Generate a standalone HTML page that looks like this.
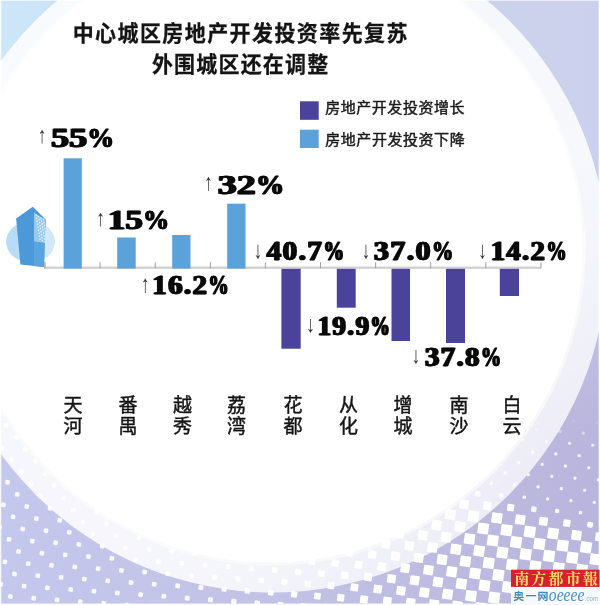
<!DOCTYPE html>
<html lang="zh-CN">
<head>
<meta charset="utf-8">
<title>中心城区房地产开发投资率先复苏 外围城区还在调整</title>
<style>
html,body{margin:0;padding:0;background:#fff;}
body{width:600px;height:605px;overflow:hidden;}
svg{display:block;}
.title{font-family:'Liberation Sans','Noto Sans CJK SC',sans-serif;font-weight:700;font-size:21px;fill:#141414;stroke:#141414;stroke-width:0.25px}
.leg{font-family:'Liberation Sans','Noto Sans CJK SC',sans-serif;font-weight:400;font-size:15px;fill:#1c1c1c;stroke:#1c1c1c;stroke-width:0.45px}
.city{font-family:'Liberation Sans','Noto Sans CJK SC',sans-serif;font-weight:400;font-size:19px;fill:#151515;stroke:#151515;stroke-width:0.45px;text-anchor:middle}
.num{font-family:'Liberation Serif',serif;font-weight:700;font-size:29px;fill:#0a0a0a;stroke:#0a0a0a;stroke-width:0.4px}
.n3{text-shadow:0.7px 0 0 #0a0a0a,-0.7px 0 0 #0a0a0a}
.n5{text-shadow:0.75px 0 0 #0a0a0a,-0.75px 0 0 #0a0a0a;letter-spacing:1.3px}
.arr{font-family:'Liberation Serif','DejaVu Serif',serif;font-weight:400;font-size:24px;fill:#333}
.lg1{font-family:'Liberation Serif','Noto Serif CJK SC',serif;font-weight:700;font-size:15px;fill:#f7e264}
.lg2{font-family:'Liberation Sans','Noto Sans CJK SC',sans-serif;font-weight:700;font-size:11px;fill:#3b8fb6}
.lg3{font-family:'Liberation Serif',serif;font-style:italic;font-weight:400;font-size:17px;fill:#4a8fc8}
.lg4{font-family:'Liberation Sans',sans-serif;font-style:italic;font-size:6px;fill:#86b4d8}
</style>
</head>
<body>
<svg width="600" height="605" viewBox="0 0 600 605">
<defs>
<linearGradient id="bgt" gradientUnits="userSpaceOnUse" x1="0" y1="0" x2="600" y2="0">
<stop offset="0" stop-color="#cde6f9"/>
<stop offset="0.25" stop-color="#cce0f6"/>
<stop offset="0.85" stop-color="#cbd2ec"/>
<stop offset="1" stop-color="#cbd1ec"/>
</linearGradient>
<linearGradient id="bgb" gradientUnits="userSpaceOnUse" x1="0" y1="0" x2="600" y2="0">
<stop offset="0" stop-color="#c4c8ec"/>
<stop offset="0.5" stop-color="#c1c1e5"/>
<stop offset="1" stop-color="#b9b5dc"/>
</linearGradient>
<linearGradient id="ring" gradientUnits="userSpaceOnUse" x1="150" y1="150" x2="560" y2="560">
<stop offset="0" stop-color="#fff" stop-opacity="0.85"/>
<stop offset="0.55" stop-color="#fff" stop-opacity="0.84"/>
<stop offset="1" stop-color="#fff" stop-opacity="0.7"/>
</linearGradient>
<linearGradient id="vm" gradientUnits="userSpaceOnUse" x1="0" y1="150" x2="0" y2="430">
<stop offset="0" stop-color="#000"/>
<stop offset="1" stop-color="#fff"/>
</linearGradient>
<mask id="mb" maskUnits="userSpaceOnUse" x="0" y="0" width="600" height="605"><rect width="600" height="605" fill="url(#vm)"/></mask>
<filter id="soft" x="-5%" y="-5%" width="110%" height="110%"><feGaussianBlur stdDeviation="0.7"/></filter>
</defs>
<rect width="600" height="605" fill="url(#bgt)"/>
<rect width="600" height="605" fill="url(#bgb)" mask="url(#mb)"/>
<g fill="#fff" filter="url(#soft)">
<rect x="3.9" y="422.9" width="4.6" height="4.6" rx="1.2" fill-opacity="0.88" transform="rotate(8 6.2 425.2)"/>
<rect x="-9.8" y="433.3" width="4.6" height="4.6" rx="1.2" fill-opacity="0.88" transform="rotate(8 -7.5 435.6)"/>
<rect x="13.5" y="435.0" width="4.6" height="4.6" rx="1.2" fill-opacity="0.88" transform="rotate(8 15.8 437.3)"/>
<rect x="-0.2" y="445.4" width="4.6" height="4.6" rx="1.2" fill-opacity="0.88" transform="rotate(8 2.1 447.7)"/>
<rect x="23.1" y="447.1" width="4.6" height="4.6" rx="1.2" fill-opacity="0.88" transform="rotate(8 25.4 449.4)"/>
<rect x="9.4" y="457.5" width="4.6" height="4.6" rx="1.2" fill-opacity="0.88" transform="rotate(8 11.7 459.8)"/>
<rect x="-4.3" y="467.9" width="4.6" height="4.6" rx="1.2" fill-opacity="0.88" transform="rotate(8 -2.0 470.2)"/>
<rect x="32.7" y="459.2" width="4.6" height="4.6" rx="1.2" fill-opacity="0.88" transform="rotate(8 35.0 461.5)"/>
<rect x="19.0" y="469.6" width="4.6" height="4.6" rx="1.2" fill-opacity="0.88" transform="rotate(8 21.3 471.9)"/>
<rect x="5.3" y="480.0" width="4.6" height="4.6" rx="1.2" fill-opacity="0.88" transform="rotate(8 7.6 482.3)"/>
<rect x="-8.4" y="490.4" width="4.6" height="4.6" rx="1.2" fill-opacity="0.88" transform="rotate(8 -6.1 492.7)"/>
<rect x="42.3" y="471.3" width="4.6" height="4.6" rx="1.2" fill-opacity="0.88" transform="rotate(8 44.6 473.6)"/>
<rect x="28.6" y="481.7" width="4.6" height="4.6" rx="1.2" fill-opacity="0.88" transform="rotate(8 30.9 484.0)"/>
<rect x="14.9" y="492.1" width="4.6" height="4.6" rx="1.2" fill-opacity="0.88" transform="rotate(8 17.2 494.4)"/>
<rect x="1.2" y="502.5" width="4.6" height="4.6" rx="1.2" fill-opacity="0.88" transform="rotate(8 3.5 504.8)"/>
<rect x="51.9" y="483.4" width="4.6" height="4.6" rx="1.2" fill-opacity="0.88" transform="rotate(8 54.2 485.7)"/>
<rect x="38.2" y="493.8" width="4.6" height="4.6" rx="1.2" fill-opacity="0.88" transform="rotate(8 40.5 496.1)"/>
<rect x="24.5" y="504.2" width="4.6" height="4.6" rx="1.2" fill-opacity="0.88" transform="rotate(8 26.8 506.5)"/>
<rect x="10.8" y="514.6" width="4.6" height="4.6" rx="1.2" fill-opacity="0.88" transform="rotate(8 13.1 516.9)"/>
<rect x="-2.9" y="525.0" width="4.6" height="4.6" rx="1.2" fill-opacity="0.88" transform="rotate(8 -0.6 527.3)"/>
<rect x="75.2" y="485.1" width="4.6" height="4.6" rx="1.2" fill-opacity="0.88" transform="rotate(8 77.5 487.4)"/>
<rect x="61.5" y="495.5" width="4.6" height="4.6" rx="1.2" fill-opacity="0.88" transform="rotate(8 63.8 497.8)"/>
<rect x="47.8" y="505.9" width="4.6" height="4.6" rx="1.2" fill-opacity="0.88" transform="rotate(8 50.1 508.2)"/>
<rect x="34.1" y="516.3" width="4.6" height="4.6" rx="1.2" fill-opacity="0.88" transform="rotate(8 36.4 518.6)"/>
<rect x="20.4" y="526.7" width="4.6" height="4.6" rx="1.2" fill-opacity="0.88" transform="rotate(8 22.7 529.0)"/>
<rect x="6.7" y="537.1" width="4.6" height="4.6" rx="1.2" fill-opacity="0.88" transform="rotate(8 9.0 539.4)"/>
<rect x="-7.0" y="547.5" width="4.6" height="4.6" rx="1.2" fill-opacity="0.88" transform="rotate(8 -4.7 549.8)"/>
<rect x="84.8" y="497.2" width="4.6" height="4.6" rx="1.2" fill-opacity="0.88" transform="rotate(8 87.1 499.5)"/>
<rect x="71.1" y="507.6" width="4.6" height="4.6" rx="1.2" fill-opacity="0.88" transform="rotate(8 73.4 509.9)"/>
<rect x="57.4" y="518.0" width="4.6" height="4.6" rx="1.2" fill-opacity="0.88" transform="rotate(8 59.7 520.3)"/>
<rect x="43.7" y="528.4" width="4.6" height="4.6" rx="1.2" fill-opacity="0.88" transform="rotate(8 46.0 530.7)"/>
<rect x="30.0" y="538.8" width="4.6" height="4.6" rx="1.2" fill-opacity="0.88" transform="rotate(8 32.3 541.1)"/>
<rect x="16.3" y="549.2" width="4.6" height="4.6" rx="1.2" fill-opacity="0.88" transform="rotate(8 18.6 551.5)"/>
<rect x="2.6" y="559.6" width="4.6" height="4.6" rx="1.2" fill-opacity="0.88" transform="rotate(8 4.9 561.9)"/>
<rect x="-11.1" y="570.0" width="4.6" height="4.6" rx="1.2" fill-opacity="0.88" transform="rotate(8 -8.8 572.3)"/>
<rect x="94.4" y="509.3" width="4.6" height="4.6" rx="1.2" fill-opacity="0.88" transform="rotate(8 96.7 511.6)"/>
<rect x="80.7" y="519.7" width="4.6" height="4.6" rx="1.2" fill-opacity="0.88" transform="rotate(8 83.0 522.0)"/>
<rect x="67.0" y="530.1" width="4.6" height="4.6" rx="1.2" fill-opacity="0.88" transform="rotate(8 69.3 532.4)"/>
<rect x="53.3" y="540.5" width="4.6" height="4.6" rx="1.2" fill-opacity="0.88" transform="rotate(8 55.6 542.8)"/>
<rect x="39.6" y="550.9" width="4.6" height="4.6" rx="1.2" fill-opacity="0.88" transform="rotate(8 41.9 553.2)"/>
<rect x="25.9" y="561.3" width="4.6" height="4.6" rx="1.2" fill-opacity="0.88" transform="rotate(8 28.2 563.6)"/>
<rect x="12.2" y="571.7" width="4.6" height="4.6" rx="1.2" fill-opacity="0.88" transform="rotate(8 14.5 574.0)"/>
<rect x="-1.5" y="582.1" width="4.6" height="4.6" rx="1.2" fill-opacity="0.88" transform="rotate(8 0.8 584.4)"/>
<rect x="104.0" y="521.4" width="4.6" height="4.6" rx="1.2" fill-opacity="0.88" transform="rotate(8 106.3 523.7)"/>
<rect x="90.3" y="531.8" width="4.6" height="4.6" rx="1.2" fill-opacity="0.88" transform="rotate(8 92.6 534.1)"/>
<rect x="76.6" y="542.2" width="4.6" height="4.6" rx="1.2" fill-opacity="0.88" transform="rotate(8 78.9 544.5)"/>
<rect x="62.9" y="552.6" width="4.6" height="4.6" rx="1.2" fill-opacity="0.88" transform="rotate(8 65.2 554.9)"/>
<rect x="49.2" y="563.0" width="4.6" height="4.6" rx="1.2" fill-opacity="0.88" transform="rotate(8 51.5 565.3)"/>
<rect x="35.5" y="573.4" width="4.6" height="4.6" rx="1.2" fill-opacity="0.88" transform="rotate(8 37.8 575.7)"/>
<rect x="21.8" y="583.8" width="4.6" height="4.6" rx="1.2" fill-opacity="0.88" transform="rotate(8 24.1 586.1)"/>
<rect x="8.1" y="594.2" width="4.6" height="4.6" rx="1.2" fill-opacity="0.88" transform="rotate(8 10.4 596.5)"/>
<rect x="-5.6" y="604.6" width="4.6" height="4.6" rx="1.2" fill-opacity="0.88" transform="rotate(8 -3.3 606.9)"/>
<rect x="127.3" y="523.1" width="4.7" height="4.7" rx="1.2" fill-opacity="0.88" transform="rotate(8 129.6 525.4)"/>
<rect x="113.6" y="533.5" width="4.7" height="4.7" rx="1.2" fill-opacity="0.88" transform="rotate(8 115.9 535.8)"/>
<rect x="99.9" y="543.9" width="4.6" height="4.6" rx="1.2" fill-opacity="0.88" transform="rotate(8 102.2 546.2)"/>
<rect x="86.2" y="554.3" width="4.6" height="4.6" rx="1.2" fill-opacity="0.88" transform="rotate(8 88.5 556.6)"/>
<rect x="72.5" y="564.7" width="4.6" height="4.6" rx="1.2" fill-opacity="0.88" transform="rotate(8 74.8 567.0)"/>
<rect x="58.8" y="575.1" width="4.6" height="4.6" rx="1.2" fill-opacity="0.88" transform="rotate(8 61.1 577.4)"/>
<rect x="45.1" y="585.5" width="4.6" height="4.6" rx="1.2" fill-opacity="0.88" transform="rotate(8 47.4 587.8)"/>
<rect x="31.4" y="595.9" width="4.6" height="4.6" rx="1.2" fill-opacity="0.88" transform="rotate(8 33.7 598.2)"/>
<rect x="17.7" y="606.3" width="4.6" height="4.6" rx="1.2" fill-opacity="0.88" transform="rotate(8 20.0 608.6)"/>
<rect x="136.9" y="535.2" width="4.7" height="4.7" rx="1.2" fill-opacity="0.88" transform="rotate(8 139.2 537.5)"/>
<rect x="123.2" y="545.6" width="4.7" height="4.7" rx="1.2" fill-opacity="0.88" transform="rotate(8 125.5 547.9)"/>
<rect x="109.5" y="556.0" width="4.7" height="4.7" rx="1.2" fill-opacity="0.88" transform="rotate(8 111.8 558.3)"/>
<rect x="95.8" y="566.4" width="4.6" height="4.6" rx="1.2" fill-opacity="0.88" transform="rotate(8 98.1 568.7)"/>
<rect x="82.1" y="576.8" width="4.6" height="4.6" rx="1.2" fill-opacity="0.88" transform="rotate(8 84.4 579.1)"/>
<rect x="68.4" y="587.2" width="4.6" height="4.6" rx="1.2" fill-opacity="0.88" transform="rotate(8 70.7 589.5)"/>
<rect x="54.7" y="597.6" width="4.6" height="4.6" rx="1.2" fill-opacity="0.88" transform="rotate(8 57.0 599.9)"/>
<rect x="41.0" y="608.0" width="4.6" height="4.6" rx="1.2" fill-opacity="0.88" transform="rotate(8 43.3 610.3)"/>
<rect x="160.1" y="536.8" width="4.8" height="4.8" rx="1.2" fill-opacity="0.88" transform="rotate(8 162.5 539.2)"/>
<rect x="146.4" y="547.2" width="4.7" height="4.7" rx="1.2" fill-opacity="0.88" transform="rotate(8 148.8 549.6)"/>
<rect x="132.8" y="557.7" width="4.7" height="4.7" rx="1.2" fill-opacity="0.88" transform="rotate(8 135.1 560.0)"/>
<rect x="119.1" y="568.1" width="4.7" height="4.7" rx="1.2" fill-opacity="0.88" transform="rotate(8 121.4 570.4)"/>
<rect x="105.4" y="578.5" width="4.6" height="4.6" rx="1.2" fill-opacity="0.88" transform="rotate(8 107.7 580.8)"/>
<rect x="91.7" y="588.9" width="4.6" height="4.6" rx="1.2" fill-opacity="0.88" transform="rotate(8 94.0 591.2)"/>
<rect x="78.0" y="599.3" width="4.6" height="4.6" rx="1.2" fill-opacity="0.88" transform="rotate(8 80.3 601.6)"/>
<rect x="64.3" y="609.7" width="4.6" height="4.6" rx="1.2" fill-opacity="0.88" transform="rotate(8 66.6 612.0)"/>
<rect x="169.7" y="548.9" width="4.8" height="4.8" rx="1.2" fill-opacity="0.88" transform="rotate(8 172.1 551.3)"/>
<rect x="156.0" y="559.3" width="4.7" height="4.7" rx="1.2" fill-opacity="0.88" transform="rotate(8 158.4 561.7)"/>
<rect x="142.3" y="569.7" width="4.7" height="4.7" rx="1.2" fill-opacity="0.88" transform="rotate(8 144.7 572.1)"/>
<rect x="128.7" y="580.2" width="4.7" height="4.7" rx="1.2" fill-opacity="0.88" transform="rotate(8 131.0 582.5)"/>
<rect x="115.0" y="590.6" width="4.7" height="4.7" rx="1.2" fill-opacity="0.88" transform="rotate(8 117.3 592.9)"/>
<rect x="101.3" y="601.0" width="4.6" height="4.6" rx="1.2" fill-opacity="0.88" transform="rotate(8 103.6 603.3)"/>
<rect x="87.6" y="611.4" width="4.6" height="4.6" rx="1.2" fill-opacity="0.88" transform="rotate(8 89.9 613.7)"/>
<rect x="192.9" y="550.5" width="4.9" height="4.9" rx="1.2" fill-opacity="0.88" transform="rotate(8 195.4 553.0)"/>
<rect x="179.3" y="561.0" width="4.8" height="4.8" rx="1.2" fill-opacity="0.88" transform="rotate(8 181.7 563.4)"/>
<rect x="165.6" y="571.4" width="4.8" height="4.8" rx="1.2" fill-opacity="0.88" transform="rotate(8 168.0 573.8)"/>
<rect x="151.9" y="581.8" width="4.7" height="4.7" rx="1.2" fill-opacity="0.88" transform="rotate(8 154.3 584.2)"/>
<rect x="138.3" y="592.3" width="4.7" height="4.7" rx="1.2" fill-opacity="0.88" transform="rotate(8 140.6 594.6)"/>
<rect x="124.6" y="602.7" width="4.7" height="4.7" rx="1.2" fill-opacity="0.88" transform="rotate(8 126.9 605.0)"/>
<rect x="216.2" y="552.2" width="5.1" height="5.1" rx="1.2" fill-opacity="0.88" transform="rotate(8 218.7 554.7)"/>
<rect x="202.5" y="562.6" width="5.0" height="5.0" rx="1.2" fill-opacity="0.88" transform="rotate(8 205.0 565.1)"/>
<rect x="188.9" y="573.1" width="4.9" height="4.9" rx="1.2" fill-opacity="0.88" transform="rotate(8 191.3 575.5)"/>
<rect x="175.2" y="583.5" width="4.8" height="4.8" rx="1.2" fill-opacity="0.88" transform="rotate(8 177.6 585.9)"/>
<rect x="161.5" y="593.9" width="4.8" height="4.8" rx="1.2" fill-opacity="0.88" transform="rotate(8 163.9 596.3)"/>
<rect x="147.8" y="604.3" width="4.7" height="4.7" rx="1.2" fill-opacity="0.88" transform="rotate(8 150.2 606.7)"/>
<rect x="239.4" y="553.8" width="5.3" height="5.3" rx="1.2" fill-opacity="0.88" transform="rotate(8 242.0 556.4)"/>
<rect x="225.7" y="564.2" width="5.1" height="5.1" rx="1.2" fill-opacity="0.88" transform="rotate(8 228.3 566.8)"/>
<rect x="212.1" y="574.7" width="5.0" height="5.0" rx="1.2" fill-opacity="0.88" transform="rotate(8 214.6 577.2)"/>
<rect x="198.4" y="585.1" width="4.9" height="4.9" rx="1.2" fill-opacity="0.88" transform="rotate(8 200.9 587.6)"/>
<rect x="184.8" y="595.6" width="4.9" height="4.9" rx="1.2" fill-opacity="0.88" transform="rotate(8 187.2 598.0)"/>
<rect x="171.1" y="606.0" width="4.8" height="4.8" rx="1.2" fill-opacity="0.88" transform="rotate(8 173.5 608.4)"/>
<rect x="262.5" y="555.3" width="5.6" height="5.6" rx="1.2" fill-opacity="0.88" transform="rotate(8 265.3 558.1)"/>
<rect x="248.9" y="565.8" width="5.4" height="5.4" rx="1.2" fill-opacity="0.88" transform="rotate(8 251.6 568.5)"/>
<rect x="235.3" y="576.3" width="5.2" height="5.2" rx="1.2" fill-opacity="0.88" transform="rotate(8 237.9 578.9)"/>
<rect x="221.6" y="586.7" width="5.1" height="5.1" rx="1.2" fill-opacity="0.88" transform="rotate(8 224.2 589.3)"/>
<rect x="208.0" y="597.2" width="5.0" height="5.0" rx="1.2" fill-opacity="0.88" transform="rotate(8 210.5 599.7)"/>
<rect x="194.3" y="607.6" width="4.9" height="4.9" rx="1.2" fill-opacity="0.88" transform="rotate(8 196.8 610.1)"/>
<rect x="285.6" y="556.8" width="6.0" height="6.0" rx="1.2" transform="rotate(8 288.6 559.8)"/>
<rect x="272.0" y="567.3" width="5.7" height="5.7" rx="1.2" transform="rotate(8 274.9 570.2)"/>
<rect x="258.4" y="577.8" width="5.5" height="5.5" rx="1.2" fill-opacity="0.88" transform="rotate(8 261.2 580.6)"/>
<rect x="244.8" y="588.3" width="5.4" height="5.4" rx="1.2" fill-opacity="0.88" transform="rotate(8 247.5 591.0)"/>
<rect x="231.2" y="598.8" width="5.2" height="5.2" rx="1.2" fill-opacity="0.88" transform="rotate(8 233.8 601.4)"/>
<rect x="217.6" y="609.3" width="5.1" height="5.1" rx="1.2" fill-opacity="0.88" transform="rotate(8 220.1 611.8)"/>
<rect x="322.2" y="547.7" width="6.8" height="6.8" rx="0.8" transform="rotate(8 325.6 551.1)"/>
<rect x="308.7" y="558.3" width="6.5" height="6.5" rx="0.8" transform="rotate(8 311.9 561.5)"/>
<rect x="295.1" y="568.8" width="6.2" height="6.2" rx="0.8" transform="rotate(8 298.2 571.9)"/>
<rect x="281.5" y="579.3" width="5.9" height="5.9" rx="1.2" transform="rotate(8 284.5 582.3)"/>
<rect x="268.0" y="589.9" width="5.7" height="5.7" rx="1.2" transform="rotate(8 270.8 592.7)"/>
<rect x="254.4" y="600.4" width="5.5" height="5.5" rx="1.2" fill-opacity="0.88" transform="rotate(8 257.1 603.1)"/>
<rect x="240.7" y="610.8" width="5.3" height="5.3" rx="1.2" fill-opacity="0.88" transform="rotate(8 243.4 613.5)"/>
<rect x="525.5" y="416.1" width="3.1" height="3.1" rx="1.2" fill-opacity="0.05" transform="rotate(8 527.0 417.6)"/>
<rect x="358.7" y="538.5" width="7.8" height="7.8" rx="0.8" transform="rotate(8 362.6 542.4)"/>
<rect x="345.2" y="549.1" width="7.4" height="7.4" rx="0.8" transform="rotate(8 348.9 552.8)"/>
<rect x="331.7" y="559.7" width="7.0" height="7.0" rx="0.8" transform="rotate(8 335.2 563.2)"/>
<rect x="318.2" y="570.3" width="6.7" height="6.7" rx="0.8" transform="rotate(8 321.5 573.6)"/>
<rect x="304.6" y="580.8" width="6.4" height="6.4" rx="0.8" transform="rotate(8 307.8 584.0)"/>
<rect x="291.1" y="591.4" width="6.1" height="6.1" rx="0.8" transform="rotate(8 294.1 594.4)"/>
<rect x="277.5" y="601.9" width="5.8" height="5.8" rx="1.2" transform="rotate(8 280.4 604.8)"/>
<rect x="548.8" y="417.8" width="3.1" height="3.1" rx="1.2" fill-opacity="0.07" transform="rotate(8 550.3 419.3)"/>
<rect x="535.1" y="428.2" width="3.1" height="3.1" rx="1.2" fill-opacity="0.35" transform="rotate(8 536.6 429.7)"/>
<rect x="521.4" y="438.6" width="3.1" height="3.1" rx="1.2" fill-opacity="0.67" transform="rotate(8 522.9 440.1)"/>
<rect x="507.6" y="448.9" width="3.1" height="3.1" rx="1.2" fill-opacity="0.85" transform="rotate(8 509.2 450.5)"/>
<rect x="493.9" y="459.3" width="3.2" height="3.2" rx="1.2" fill-opacity="0.85" transform="rotate(8 495.5 460.9)"/>
<rect x="408.7" y="518.7" width="9.3" height="9.3" rx="0.8" transform="rotate(8 413.3 523.3)"/>
<rect x="395.2" y="529.3" width="8.9" height="8.9" rx="0.8" transform="rotate(8 399.6 533.7)"/>
<rect x="381.7" y="539.9" width="8.5" height="8.5" rx="0.8" transform="rotate(8 385.9 544.1)"/>
<rect x="368.2" y="550.5" width="8.1" height="8.1" rx="0.8" transform="rotate(8 372.2 554.5)"/>
<rect x="354.7" y="561.1" width="7.7" height="7.7" rx="0.8" transform="rotate(8 358.5 564.9)"/>
<rect x="341.2" y="571.7" width="7.3" height="7.3" rx="0.8" transform="rotate(8 344.8 575.3)"/>
<rect x="327.6" y="582.2" width="6.9" height="6.9" rx="0.8" transform="rotate(8 331.1 585.7)"/>
<rect x="314.1" y="592.8" width="6.6" height="6.6" rx="0.8" transform="rotate(8 317.4 596.1)"/>
<rect x="300.6" y="603.4" width="6.3" height="6.3" rx="0.8" transform="rotate(8 303.7 606.5)"/>
<rect x="572.1" y="419.4" width="3.1" height="3.1" rx="1.2" fill-opacity="0.11" transform="rotate(8 573.6 421.0)"/>
<rect x="558.4" y="429.8" width="3.1" height="3.1" rx="1.2" fill-opacity="0.41" transform="rotate(8 559.9 431.4)"/>
<rect x="544.7" y="440.2" width="3.1" height="3.1" rx="1.2" fill-opacity="0.71" transform="rotate(8 546.2 441.8)"/>
<rect x="531.0" y="450.6" width="3.1" height="3.1" rx="1.2" fill-opacity="0.85" transform="rotate(8 532.5 452.2)"/>
<rect x="517.2" y="461.0" width="3.1" height="3.1" rx="1.2" fill-opacity="0.85" transform="rotate(8 518.8 462.6)"/>
<rect x="503.5" y="471.4" width="3.1" height="3.1" rx="1.2" fill-opacity="0.85" transform="rotate(8 505.1 473.0)"/>
<rect x="489.8" y="481.8" width="3.3" height="3.3" rx="1.2" fill-opacity="0.85" transform="rotate(8 491.4 483.4)"/>
<rect x="474.9" y="491.0" width="5.6" height="5.6" rx="1.2" fill-opacity="0.85" transform="rotate(8 477.7 493.8)"/>
<rect x="459.4" y="499.6" width="9.3" height="9.3" rx="0.8" transform="rotate(8 464.0 504.2)"/>
<rect x="445.2" y="509.5" width="10.2" height="10.2" rx="0.8" transform="rotate(8 450.3 514.6)"/>
<rect x="431.7" y="520.1" width="9.9" height="9.9" rx="0.8" transform="rotate(8 436.6 525.0)"/>
<rect x="418.1" y="530.6" width="9.5" height="9.5" rx="0.8" transform="rotate(8 422.9 535.4)"/>
<rect x="404.6" y="541.2" width="9.2" height="9.2" rx="0.8" transform="rotate(8 409.2 545.8)"/>
<rect x="391.1" y="551.8" width="8.8" height="8.8" rx="0.8" transform="rotate(8 395.5 556.2)"/>
<rect x="377.6" y="562.4" width="8.4" height="8.4" rx="0.8" transform="rotate(8 381.8 566.6)"/>
<rect x="364.1" y="573.0" width="8.0" height="8.0" rx="0.8" transform="rotate(8 368.1 577.0)"/>
<rect x="350.6" y="583.6" width="7.6" height="7.6" rx="0.8" transform="rotate(8 354.4 587.4)"/>
<rect x="337.1" y="594.2" width="7.2" height="7.2" rx="0.8" transform="rotate(8 340.7 597.8)"/>
<rect x="323.6" y="604.8" width="6.8" height="6.8" rx="0.8" transform="rotate(8 327.0 608.2)"/>
<rect x="595.4" y="421.2" width="3.1" height="3.1" rx="1.2" fill-opacity="0.15" transform="rotate(8 596.9 422.7)"/>
<rect x="581.7" y="431.6" width="3.1" height="3.1" rx="1.2" fill-opacity="0.46" transform="rotate(8 583.2 433.1)"/>
<rect x="568.0" y="441.9" width="3.1" height="3.1" rx="1.2" fill-opacity="0.75" transform="rotate(8 569.5 443.5)"/>
<rect x="554.2" y="452.4" width="3.1" height="3.1" rx="1.2" fill-opacity="0.85" transform="rotate(8 555.8 453.9)"/>
<rect x="540.6" y="462.8" width="3.1" height="3.1" rx="1.2" fill-opacity="0.85" transform="rotate(8 542.1 464.3)"/>
<rect x="526.9" y="473.2" width="3.1" height="3.1" rx="1.2" fill-opacity="0.85" transform="rotate(8 528.4 474.7)"/>
<rect x="513.1" y="483.5" width="3.1" height="3.1" rx="1.2" fill-opacity="0.85" transform="rotate(8 514.7 485.1)"/>
<rect x="498.9" y="493.4" width="4.3" height="4.3" rx="1.2" fill-opacity="0.85" transform="rotate(8 501.0 495.5)"/>
<rect x="483.1" y="501.7" width="8.3" height="8.3" rx="0.8" transform="rotate(8 487.3 505.9)"/>
<rect x="468.2" y="510.9" width="10.7" height="10.7" rx="0.8" transform="rotate(8 473.6 516.3)"/>
<rect x="454.7" y="521.5" width="10.4" height="10.4" rx="0.8" transform="rotate(8 459.9 526.7)"/>
<rect x="441.1" y="532.0" width="10.1" height="10.1" rx="0.8" transform="rotate(8 446.2 537.1)"/>
<rect x="427.6" y="542.6" width="9.8" height="9.8" rx="0.8" transform="rotate(8 432.5 547.5)"/>
<rect x="414.1" y="553.2" width="9.4" height="9.4" rx="0.8" transform="rotate(8 418.8 557.9)"/>
<rect x="400.6" y="563.8" width="9.0" height="9.0" rx="0.8" transform="rotate(8 405.1 568.3)"/>
<rect x="387.1" y="574.4" width="8.7" height="8.7" rx="0.8" transform="rotate(8 391.4 578.7)"/>
<rect x="373.6" y="585.0" width="8.3" height="8.3" rx="0.8" transform="rotate(8 377.7 589.1)"/>
<rect x="360.1" y="595.6" width="7.8" height="7.8" rx="0.8" transform="rotate(8 364.0 599.5)"/>
<rect x="346.6" y="606.2" width="7.4" height="7.4" rx="0.8" transform="rotate(8 350.3 609.9)"/>
<rect x="605.0" y="433.3" width="3.1" height="3.1" rx="1.2" fill-opacity="0.51" transform="rotate(8 606.5 434.8)"/>
<rect x="591.2" y="443.7" width="3.1" height="3.1" rx="1.2" fill-opacity="0.78" transform="rotate(8 592.8 445.2)"/>
<rect x="577.6" y="454.1" width="3.1" height="3.1" rx="1.2" fill-opacity="0.85" transform="rotate(8 579.1 455.6)"/>
<rect x="563.9" y="464.5" width="3.1" height="3.1" rx="1.2" fill-opacity="0.85" transform="rotate(8 565.4 466.0)"/>
<rect x="550.2" y="474.9" width="3.1" height="3.1" rx="1.2" fill-opacity="0.85" transform="rotate(8 551.7 476.4)"/>
<rect x="536.5" y="485.3" width="3.1" height="3.1" rx="1.2" fill-opacity="0.85" transform="rotate(8 538.0 486.8)"/>
<rect x="522.6" y="495.5" width="3.4" height="3.4" rx="1.2" fill-opacity="0.85" transform="rotate(8 524.3 497.2)"/>
<rect x="507.1" y="504.1" width="7.0" height="7.0" rx="0.8" transform="rotate(8 510.6 507.6)"/>
<rect x="491.6" y="512.7" width="10.6" height="10.6" rx="0.8" transform="rotate(8 496.9 518.0)"/>
<rect x="477.8" y="523.0" width="10.9" height="10.9" rx="0.8" transform="rotate(8 483.2 528.4)"/>
<rect x="464.2" y="533.5" width="10.7" height="10.7" rx="0.8" transform="rotate(8 469.5 538.8)"/>
<rect x="450.6" y="544.0" width="10.4" height="10.4" rx="0.8" transform="rotate(8 455.8 549.2)"/>
<rect x="437.1" y="554.6" width="10.0" height="10.0" rx="0.8" transform="rotate(8 442.1 559.6)"/>
<rect x="423.6" y="565.2" width="9.7" height="9.7" rx="0.8" transform="rotate(8 428.4 570.0)"/>
<rect x="410.0" y="575.7" width="9.3" height="9.3" rx="0.8" transform="rotate(8 414.7 580.4)"/>
<rect x="396.5" y="586.3" width="8.9" height="8.9" rx="0.8" transform="rotate(8 401.0 590.8)"/>
<rect x="383.0" y="596.9" width="8.5" height="8.5" rx="0.8" transform="rotate(8 387.3 601.2)"/>
<rect x="369.5" y="607.5" width="8.1" height="8.1" rx="0.8" transform="rotate(8 373.6 611.6)"/>
<rect x="600.9" y="455.8" width="3.1" height="3.1" rx="1.2" fill-opacity="0.85" transform="rotate(8 602.4 457.3)"/>
<rect x="587.2" y="466.2" width="3.1" height="3.1" rx="1.2" fill-opacity="0.85" transform="rotate(8 588.7 467.7)"/>
<rect x="573.5" y="476.6" width="3.1" height="3.1" rx="1.2" fill-opacity="0.85" transform="rotate(8 575.0 478.1)"/>
<rect x="559.8" y="487.0" width="3.1" height="3.1" rx="1.2" fill-opacity="0.85" transform="rotate(8 561.3 488.5)"/>
<rect x="546.1" y="497.4" width="3.1" height="3.1" rx="1.2" fill-opacity="0.85" transform="rotate(8 547.6 498.9)"/>
<rect x="531.1" y="506.5" width="5.5" height="5.5" rx="1.2" fill-opacity="0.85" transform="rotate(8 533.9 509.3)"/>
<rect x="515.3" y="514.8" width="9.8" height="9.8" rx="0.8" transform="rotate(8 520.2 519.7)"/>
<rect x="500.9" y="524.5" width="11.2" height="11.2" rx="0.8" transform="rotate(8 506.5 530.1)"/>
<rect x="487.3" y="535.0" width="11.0" height="11.0" rx="0.8" transform="rotate(8 492.8 540.5)"/>
<rect x="473.7" y="545.5" width="10.8" height="10.8" rx="0.8" transform="rotate(8 479.1 550.9)"/>
<rect x="460.1" y="556.0" width="10.6" height="10.6" rx="0.8" transform="rotate(8 465.4 561.3)"/>
<rect x="446.6" y="566.6" width="10.3" height="10.3" rx="0.8" transform="rotate(8 451.7 571.7)"/>
<rect x="433.0" y="577.1" width="9.9" height="9.9" rx="0.8" transform="rotate(8 438.0 582.1)"/>
<rect x="419.5" y="587.7" width="9.6" height="9.6" rx="0.8" transform="rotate(8 424.3 592.5)"/>
<rect x="406.0" y="598.3" width="9.2" height="9.2" rx="0.8" transform="rotate(8 410.6 602.9)"/>
<rect x="392.5" y="608.9" width="8.8" height="8.8" rx="0.8" transform="rotate(8 396.9 613.3)"/>
<rect x="596.8" y="478.3" width="3.1" height="3.1" rx="1.2" fill-opacity="0.85" transform="rotate(8 598.3 479.8)"/>
<rect x="583.1" y="488.7" width="3.1" height="3.1" rx="1.2" fill-opacity="0.85" transform="rotate(8 584.6 490.2)"/>
<rect x="569.4" y="499.1" width="3.1" height="3.1" rx="1.2" fill-opacity="0.85" transform="rotate(8 570.9 500.6)"/>
<rect x="555.0" y="508.8" width="4.3" height="4.3" rx="1.2" fill-opacity="0.85" transform="rotate(8 557.2 511.0)"/>
<rect x="539.2" y="517.1" width="8.5" height="8.5" rx="0.8" transform="rotate(8 543.5 521.4)"/>
<rect x="524.2" y="526.2" width="11.2" height="11.2" rx="0.8" transform="rotate(8 529.8 531.8)"/>
<rect x="510.5" y="536.6" width="11.2" height="11.2" rx="0.8" transform="rotate(8 516.1 542.2)"/>
<rect x="496.8" y="547.0" width="11.1" height="11.1" rx="0.8" transform="rotate(8 502.4 552.6)"/>
<rect x="483.2" y="557.5" width="11.0" height="11.0" rx="0.8" transform="rotate(8 488.7 563.0)"/>
<rect x="469.6" y="568.0" width="10.8" height="10.8" rx="0.8" transform="rotate(8 475.0 573.4)"/>
<rect x="456.1" y="578.6" width="10.5" height="10.5" rx="0.8" transform="rotate(8 461.3 583.8)"/>
<rect x="442.5" y="589.1" width="10.2" height="10.2" rx="0.8" transform="rotate(8 447.6 594.2)"/>
<rect x="429.0" y="599.7" width="9.8" height="9.8" rx="0.8" transform="rotate(8 433.9 604.6)"/>
<rect x="606.4" y="490.3" width="3.1" height="3.1" rx="1.2" fill-opacity="0.85" transform="rotate(8 607.9 491.9)"/>
<rect x="592.7" y="500.8" width="3.1" height="3.1" rx="1.2" fill-opacity="0.85" transform="rotate(8 594.2 502.3)"/>
<rect x="578.8" y="511.0" width="3.4" height="3.4" rx="1.2" fill-opacity="0.85" transform="rotate(8 580.5 512.7)"/>
<rect x="563.3" y="519.6" width="7.1" height="7.1" rx="0.8" transform="rotate(8 566.8 523.1)"/>
<rect x="547.7" y="528.1" width="10.8" height="10.8" rx="0.8" transform="rotate(8 553.1 533.5)"/>
<rect x="533.8" y="538.3" width="11.2" height="11.2" rx="0.8" transform="rotate(8 539.4 543.9)"/>
<rect x="520.1" y="548.7" width="11.2" height="11.2" rx="0.8" transform="rotate(8 525.7 554.3)"/>
<rect x="506.4" y="559.1" width="11.2" height="11.2" rx="0.8" transform="rotate(8 512.0 564.7)"/>
<rect x="492.8" y="569.6" width="11.1" height="11.1" rx="0.8" transform="rotate(8 498.3 575.1)"/>
<rect x="479.1" y="580.0" width="10.9" height="10.9" rx="0.8" transform="rotate(8 484.6 585.5)"/>
<rect x="465.6" y="590.6" width="10.7" height="10.7" rx="0.8" transform="rotate(8 470.9 595.9)"/>
<rect x="452.0" y="601.1" width="10.4" height="10.4" rx="0.8" transform="rotate(8 457.2 606.3)"/>
<rect x="602.2" y="512.8" width="3.1" height="3.1" rx="1.2" fill-opacity="0.85" transform="rotate(8 603.8 514.4)"/>
<rect x="587.3" y="522.0" width="5.6" height="5.6" rx="1.2" transform="rotate(8 590.1 524.8)"/>
<rect x="571.5" y="530.3" width="9.9" height="9.9" rx="0.8" transform="rotate(8 576.4 535.2)"/>
<rect x="557.1" y="540.0" width="11.2" height="11.2" rx="0.8" transform="rotate(8 562.7 545.6)"/>
<rect x="543.4" y="550.4" width="11.2" height="11.2" rx="0.8" transform="rotate(8 549.0 556.0)"/>
<rect x="529.7" y="560.8" width="11.2" height="11.2" rx="0.8" transform="rotate(8 535.3 566.4)"/>
<rect x="516.0" y="571.2" width="11.2" height="11.2" rx="0.8" transform="rotate(8 521.6 576.8)"/>
<rect x="502.3" y="581.6" width="11.2" height="11.2" rx="0.8" transform="rotate(8 507.9 587.2)"/>
<rect x="488.7" y="592.1" width="11.0" height="11.0" rx="0.8" transform="rotate(8 494.2 597.6)"/>
<rect x="475.1" y="602.6" width="10.9" height="10.9" rx="0.8" transform="rotate(8 480.5 608.0)"/>
<rect x="595.4" y="532.6" width="8.6" height="8.6" rx="0.8" transform="rotate(8 599.7 536.9)"/>
<rect x="580.4" y="541.7" width="11.2" height="11.2" rx="0.8" transform="rotate(8 586.0 547.3)"/>
<rect x="566.7" y="552.1" width="11.2" height="11.2" rx="0.8" transform="rotate(8 572.3 557.7)"/>
<rect x="553.0" y="562.5" width="11.2" height="11.2" rx="0.8" transform="rotate(8 558.6 568.1)"/>
<rect x="539.3" y="572.9" width="11.2" height="11.2" rx="0.8" transform="rotate(8 544.9 578.5)"/>
<rect x="525.6" y="583.3" width="11.2" height="11.2" rx="0.8" transform="rotate(8 531.2 588.9)"/>
<rect x="511.9" y="593.7" width="11.2" height="11.2" rx="0.8" transform="rotate(8 517.5 599.3)"/>
<rect x="498.2" y="604.1" width="11.1" height="11.1" rx="0.8" transform="rotate(8 503.8 609.7)"/>
<rect x="603.9" y="543.6" width="10.8" height="10.8" rx="0.8" transform="rotate(8 609.3 549.0)"/>
<rect x="590.0" y="553.8" width="11.2" height="11.2" rx="0.8" transform="rotate(8 595.6 559.4)"/>
<rect x="576.3" y="564.2" width="11.2" height="11.2" rx="0.8" transform="rotate(8 581.9 569.8)"/>
<rect x="562.6" y="574.6" width="11.2" height="11.2" rx="0.8" transform="rotate(8 568.2 580.2)"/>
<rect x="548.9" y="585.0" width="11.2" height="11.2" rx="0.8" transform="rotate(8 554.5 590.6)"/>
<rect x="535.2" y="595.4" width="11.2" height="11.2" rx="0.8" transform="rotate(8 540.8 601.0)"/>
<rect x="521.5" y="605.8" width="11.2" height="11.2" rx="0.8" transform="rotate(8 527.1 611.4)"/>
<rect x="599.6" y="565.9" width="11.2" height="11.2" rx="0.8" transform="rotate(8 605.2 571.5)"/>
<rect x="585.9" y="576.3" width="11.2" height="11.2" rx="0.8" transform="rotate(8 591.5 581.9)"/>
<rect x="572.2" y="586.7" width="11.2" height="11.2" rx="0.8" transform="rotate(8 577.8 592.3)"/>
<rect x="558.5" y="597.1" width="11.2" height="11.2" rx="0.8" transform="rotate(8 564.1 602.7)"/>
<rect x="544.8" y="607.5" width="11.2" height="11.2" rx="0.8" transform="rotate(8 550.4 613.1)"/>
<rect x="595.5" y="588.4" width="11.2" height="11.2" rx="0.8" transform="rotate(8 601.1 594.0)"/>
<rect x="581.8" y="598.8" width="11.2" height="11.2" rx="0.8" transform="rotate(8 587.4 604.4)"/>
<rect x="568.1" y="609.2" width="11.2" height="11.2" rx="0.8" transform="rotate(8 573.7 614.8)"/>
</g>
<circle cx="272.3" cy="257.5" r="335" fill="url(#ring)"/>
<circle cx="271" cy="251" r="314.5" fill="#fff" fill-opacity="0.5"/>
<circle cx="271" cy="251" r="311.5" fill="#fff"/>
<!-- page edge -->
<rect x="0" y="0" width="600" height="1" fill="#fff" fill-opacity="0.6"/>
<rect x="0" y="0" width="1.3" height="605" fill="#fff" fill-opacity="0.85"/>
<rect x="598.7" y="0" width="1.3" height="605" fill="#fff"/>
<rect x="0" y="603.5" width="600" height="1.5" fill="#fff" fill-opacity="0.9"/>

<!-- title -->
<text class="title" transform="matrix(1.0003 0 0 1.0307 72.65 40.98)" style="letter-spacing:1.427px">中心城区房地产开发投资率先复苏</text>
<text class="title" transform="matrix(0.9997 0 0 1.0272 151.93 72.49)" style="letter-spacing:1.207px">外围城区还在调整</text>

<!-- legend -->
<rect x="300" y="101.3" width="18.7" height="18.5" fill="#4a4399"/>
<rect x="300" y="129.7" width="18.7" height="18.3" fill="#5ba2db"/>
<text class="leg" transform="matrix(1.0000 0 0 0.9793 325.25 113.11)" style="letter-spacing:0.547px">房地产开发投资增长</text>
<text class="leg" transform="matrix(1.0000 0 0 1.0000 325.25 145.38)" style="letter-spacing:0.547px">房地产开发投资下降</text>

<!-- building icon -->
<ellipse cx="30.4" cy="241.8" rx="24.3" ry="20.6" fill="#b8dbf6"/>
<path d="M30.4 221.2 A24.3 20.6 0 0 1 30.4 262.4 Z" fill="#d2e8f9"/>
<polygon points="16.1,218.6 32.8,206.8 45.9,219.8 44.7,243.4 44,267 20.4,264.4" fill="#4c98d8"/>
<polygon points="34,212.4 45.6,220 44.7,243 34,241.5" fill="#98c9ee"/>
<polygon points="34,241.5 44.7,243.2 44,267 34,266" fill="#5aa5e0"/>
<rect x="35.4" y="214.5" width="1.3" height="1.5" fill="#eaf4fc"/><rect x="37.9" y="215.9" width="1.3" height="1.5" fill="#eaf4fc"/><rect x="40.4" y="217.3" width="1.3" height="1.5" fill="#eaf4fc"/><rect x="42.9" y="218.7" width="1.3" height="1.5" fill="#eaf4fc"/><rect x="35.9" y="217.5" width="1.3" height="1.5" fill="#eaf4fc"/><rect x="38.4" y="218.9" width="1.3" height="1.5" fill="#eaf4fc"/><rect x="40.9" y="220.3" width="1.3" height="1.5" fill="#eaf4fc"/><rect x="43.4" y="221.7" width="1.3" height="1.5" fill="#eaf4fc"/><rect x="36.4" y="220.5" width="1.3" height="1.5" fill="#eaf4fc"/><rect x="38.9" y="221.9" width="1.3" height="1.5" fill="#eaf4fc"/><rect x="41.4" y="223.3" width="1.3" height="1.5" fill="#eaf4fc"/><rect x="43.9" y="224.7" width="1.3" height="1.5" fill="#eaf4fc"/><rect x="36.9" y="223.5" width="1.3" height="1.5" fill="#eaf4fc"/><rect x="39.4" y="224.9" width="1.3" height="1.5" fill="#eaf4fc"/><rect x="41.9" y="226.3" width="1.3" height="1.5" fill="#eaf4fc"/><rect x="44.4" y="227.7" width="1.3" height="1.5" fill="#eaf4fc"/><rect x="37.4" y="226.5" width="1.3" height="1.5" fill="#eaf4fc"/><rect x="39.9" y="227.9" width="1.3" height="1.5" fill="#eaf4fc"/><rect x="42.4" y="229.3" width="1.3" height="1.5" fill="#eaf4fc"/><rect x="44.9" y="230.7" width="1.3" height="1.5" fill="#eaf4fc"/><rect x="37.9" y="229.5" width="1.3" height="1.5" fill="#eaf4fc"/><rect x="40.4" y="230.9" width="1.3" height="1.5" fill="#eaf4fc"/><rect x="42.9" y="232.3" width="1.3" height="1.5" fill="#eaf4fc"/><rect x="45.4" y="233.7" width="1.3" height="1.5" fill="#eaf4fc"/><rect x="38.4" y="232.5" width="1.3" height="1.5" fill="#eaf4fc"/><rect x="40.9" y="233.9" width="1.3" height="1.5" fill="#eaf4fc"/><rect x="43.4" y="235.3" width="1.3" height="1.5" fill="#eaf4fc"/><rect x="38.9" y="235.5" width="1.3" height="1.5" fill="#eaf4fc"/><rect x="41.4" y="236.9" width="1.3" height="1.5" fill="#eaf4fc"/><rect x="43.9" y="238.3" width="1.3" height="1.5" fill="#eaf4fc"/><rect x="39.4" y="238.5" width="1.3" height="1.5" fill="#eaf4fc"/><rect x="41.9" y="239.9" width="1.3" height="1.5" fill="#eaf4fc"/><rect x="44.4" y="241.3" width="1.3" height="1.5" fill="#eaf4fc"/>

<!-- axis -->
<rect x="44.5" y="265.8" width="496.5" height="1.5" fill="#ececec"/>
<rect x="44.5" y="267.3" width="496.5" height="1.3" fill="#bdbdbd"/>
<rect x="44.3" y="261.7" width="1" height="7" fill="#b8b8b8"/>
<rect x="44.5" y="262.2" width="0.9" height="6" fill="#979797"/>
<rect x="99.6" y="262.2" width="0.9" height="6" fill="#979797"/>
<rect x="154.8" y="262.2" width="0.9" height="6" fill="#979797"/>
<rect x="209.9" y="262.2" width="0.9" height="6" fill="#979797"/>
<rect x="264.9" y="262.2" width="0.9" height="6" fill="#979797"/>
<rect x="320.1" y="262.2" width="0.9" height="6" fill="#979797"/>
<rect x="375.2" y="262.2" width="0.9" height="6" fill="#979797"/>
<rect x="430.2" y="262.2" width="0.9" height="6" fill="#979797"/>
<rect x="485.4" y="262.2" width="0.9" height="6" fill="#979797"/>
<rect x="540.5" y="262.2" width="0.9" height="6" fill="#979797"/>

<rect x="63.6" y="158.3" width="18.2" height="110.3" fill="#5ba2db"/>
<rect x="117.2" y="237.5" width="18.5" height="31.1" fill="#5ba2db"/>
<rect x="172.2" y="235.0" width="18.3" height="33.6" fill="#5ba2db"/>
<rect x="227.2" y="203.7" width="18.3" height="64.9" fill="#5ba2db"/>
<rect x="281.4" y="268.8" width="19.3" height="79.9" fill="#4a4399"/>
<rect x="336.8" y="268.8" width="18.9" height="38.9" fill="#4a4399"/>
<rect x="391.5" y="268.8" width="18.5" height="72.2" fill="#4a4399"/>
<rect x="446.0" y="268.8" width="19.0" height="74.2" fill="#4a4399"/>
<rect x="499.8" y="268.8" width="19.2" height="27.2" fill="#4a4399"/>

<text class="num n3" transform="matrix(1.2522 0 0 0.9689 50.99 147.19)">55<tspan textLength="21.5" lengthAdjust="spacingAndGlyphs">%</tspan></text>
<text class="arr" transform="matrix(0.7273 0 0 0.9404 37.64 142.99)">↑</text>
<text class="num n3" transform="matrix(1.2178 0 0 0.9689 107.67 229.39)">15<tspan textLength="21.5" lengthAdjust="spacingAndGlyphs">%</tspan></text>
<text class="arr" transform="matrix(0.7273 0 0 0.9474 96.14 225.79)">↑</text>
<text class="num n5" transform="matrix(0.9990 0 0 0.9441 152.33 293.91)">16.2<tspan textLength="21.5" lengthAdjust="spacingAndGlyphs">%</tspan></text>
<text class="arr" transform="matrix(0.7273 0 0 1.0175 140.64 291.74)">↑</text>
<text class="num n3" transform="matrix(1.3197 0 0 0.9689 217.67 193.89)">32<tspan textLength="21.5" lengthAdjust="spacingAndGlyphs">%</tspan></text>
<text class="arr" transform="matrix(0.7273 0 0 0.9825 204.34 190.26)">↑</text>
<text class="num n5" transform="matrix(1.0165 0 0 0.9441 266.51 260.41)">40.7<tspan textLength="21.5" lengthAdjust="spacingAndGlyphs">%</tspan></text>
<text class="arr" transform="matrix(0.7273 0 0 0.9965 253.64 257.95)">↓</text>
<text class="num n5" transform="matrix(0.9475 0 0 0.9342 317.40 334.72)">19.9<tspan textLength="21.5" lengthAdjust="spacingAndGlyphs">%</tspan></text>
<text class="arr" transform="matrix(0.7273 0 0 0.9684 306.14 331.77)">↓</text>
<text class="num n5" transform="matrix(1.0383 0 0 0.9292 373.87 260.42)">37.0<tspan textLength="21.5" lengthAdjust="spacingAndGlyphs">%</tspan></text>
<text class="arr" transform="matrix(0.7273 0 0 0.9965 361.64 257.95)">↓</text>
<text class="num n5" transform="matrix(0.9983 0 0 0.9342 424.88 365.72)">37.8<tspan textLength="21.5" lengthAdjust="spacingAndGlyphs">%</tspan></text>
<text class="arr" transform="matrix(0.7273 0 0 0.9825 411.64 362.76)">↓</text>
<text class="num n5" transform="matrix(0.9949 0 0 0.9441 490.63 260.41)">14.2<tspan textLength="21.5" lengthAdjust="spacingAndGlyphs">%</tspan></text>
<text class="arr" transform="matrix(0.7273 0 0 0.9965 478.14 257.95)">↓</text>

<text class="city"><tspan x="73.0" y="411.6">天</tspan><tspan x="73.0" y="432.6">河</tspan></text>
<text class="city"><tspan x="128.0" y="411.6">番</tspan><tspan x="128.0" y="432.6">禺</tspan></text>
<text class="city"><tspan x="182.5" y="411.6">越</tspan><tspan x="182.5" y="432.6">秀</tspan></text>
<text class="city"><tspan x="236.5" y="411.6">荔</tspan><tspan x="236.5" y="432.6">湾</tspan></text>
<text class="city"><tspan x="293.0" y="411.6">花</tspan><tspan x="293.0" y="432.6">都</tspan></text>
<text class="city"><tspan x="348.5" y="411.6">从</tspan><tspan x="348.5" y="432.6">化</tspan></text>
<text class="city"><tspan x="403.0" y="411.6">增</tspan><tspan x="403.0" y="432.6">城</tspan></text>
<text class="city"><tspan x="459.0" y="411.6">南</tspan><tspan x="459.0" y="432.6">沙</tspan></text>
<text class="city"><tspan x="512.0" y="411.6">白</tspan><tspan x="512.0" y="432.6">云</tspan></text>

<!-- logo -->
<rect x="511" y="586.5" width="89" height="18.5" fill="#f6f9fd"/>
<rect x="511" y="569.7" width="88.5" height="17.2" fill="#d7212e"/>
<text class="lg1" transform="matrix(1.0006 0 0 0.9699 514.17 583.97)" style="letter-spacing:2.169px">南方都市報</text>
<text class="lg2" transform="matrix(1.0000 0 0 0.9446 513.33 599.86)" style="letter-spacing:1.125px">奥一网</text>
<text class="lg3" transform="matrix(0.9192 0 0 1.0708 548.84 601.07)">oeeee</text>
<text class="lg4" transform="matrix(1.0400 0 0 1.2923 584.74 601.20)">.com</text>
</svg>
</body>
</html>
